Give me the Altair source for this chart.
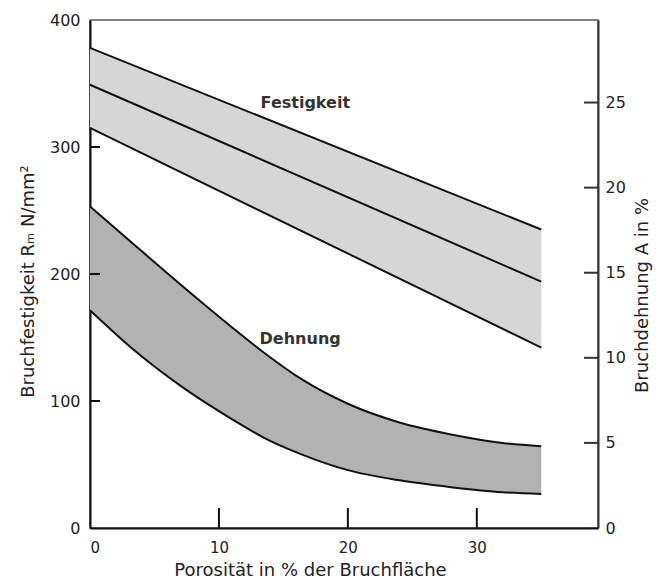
import altair as alt
import pandas as pd

# Axis ranges
x_max = 39.4          # porosity axis, % of fracture surface
left_max = 400        # tensile strength, N/mm²
right_max = 29.85     # elongation at fracture, %

# Strength band (Festigkeit): upper, mean and lower bound, N/mm²
fest_x = [0, 35]
fest_upper = [378, 235]
fest_mid = [349, 194]
fest_lower = [315, 142]

# Elongation band (Dehnung): upper and lower bound, %
dehn_x = [0, 3.5, 7.5, 11, 13.5, 16.5, 20, 24, 28, 32, 35]
dehn_upper = [18.9, 16.6, 14.0, 11.8, 10.3, 8.7, 7.3, 6.2, 5.5, 5.0, 4.8]
dehn_lower = [12.8, 10.4, 8.1, 6.4, 5.3, 4.3, 3.4, 2.8, 2.4, 2.1, 2.0]

# Tick values (inward tick marks)
x_ticks = [10, 20, 30]
left_ticks = [100, 200, 300]
right_ticks = [5, 10, 15, 20, 25]

# Band labels
label_text = ["Festigkeit", "Dehnung"]
label_x = [16.7, 16.3]
label_y = [335, 149]

FONT = "DejaVu Sans"
INK = "#111111"
TXT = "#222222"

xs = alt.Scale(domain=[0, x_max], nice=False, zero=False)
ys_left = alt.Scale(domain=[0, left_max], nice=False, zero=False)
ys_right = alt.Scale(domain=[0, right_max], nice=False, zero=False)

fest = pd.DataFrame({"x": fest_x, "upper": fest_upper, "mid": fest_mid, "lower": fest_lower})
dehn = pd.DataFrame({"x": dehn_x, "upper": dehn_upper, "lower": dehn_lower})
labels = pd.DataFrame({"t": label_text, "x": label_x, "y": label_y})

x_axis = alt.Axis(
    values=[0, 10, 20, 30], ticks=False, grid=False,
    domainColor=INK, domainWidth=2,
    labelFontSize=15, labelColor=TXT, labelPadding=12, labelFont=FONT,
    title="Porosität in % der Bruchfläche", titleFontSize=18, titleFontWeight="normal",
    titleColor=TXT, titleFont=FONT, titleX=220, titleY=42, titleBaseline="middle",
)
left_axis = alt.Axis(
    values=[0, 100, 200, 300, 400], ticks=False, grid=False,
    domainColor=INK, domainWidth=2,
    labelFontSize=16, labelColor=TXT, labelPadding=10, labelFont=FONT,
    title="Bruchfestigkeit Rₘ  N/mm²", titleFontSize=18, titleFontWeight="normal",
    titleColor=TXT, titleFont=FONT, titleAngle=270, titleBaseline="middle",
    titleX=-62, titleY=261,
)
right_axis = alt.Axis(
    orient="right", values=[0, 5, 10, 15, 20, 25], ticks=False, grid=False,
    domainColor="#333333", domainWidth=2,
    labelFontSize=16, labelColor=TXT, labelPadding=7, labelFont=FONT,
    title="Bruchdehnung  A in %", titleFontSize=18, titleFontWeight="normal",
    titleColor=TXT, titleFont=FONT, titleAngle=270, titleBaseline="middle",
    titleX=44, titleY=275,
)

X = lambda f: alt.X(f, scale=xs, axis=x_axis)
YL = lambda f: alt.Y(f, scale=ys_left, axis=left_axis)
YR = lambda f: alt.Y(f, scale=ys_right, axis=right_axis)

# Right-scale group: elongation band, its two bounds, ticks
dehn_band = alt.Chart(dehn).mark_area(color="#b2b2b2", interpolate="monotone").encode(
    x=X("x:Q"), y=YR("upper:Q"), y2="lower:Q",
)
dehn_lines = alt.Chart(dehn).transform_fold(
    ["upper", "lower"], as_=["key", "value"]
).mark_line(color=INK, strokeWidth=2, interpolate="monotone").encode(
    x=X("x:Q"), y=YR("value:Q"), detail="key:N",
)
right_tick_marks = alt.Chart(pd.DataFrame({"v": right_ticks})).mark_rule(
    color="#333333", strokeWidth=2
).encode(
    y=YR("v:Q"), x=alt.value(494), x2=alt.value(508),
)
right_group = alt.layer(dehn_band, dehn_lines, right_tick_marks)

# Left-scale group: strength band, its three lines, labels, ticks
fest_band = alt.Chart(fest).mark_area(color="#d6d6d6").encode(
    x=X("x:Q"), y=YL("upper:Q"), y2="lower:Q",
)
fest_lines = alt.Chart(fest).transform_fold(
    ["upper", "mid", "lower"], as_=["key", "value"]
).mark_line(color=INK, strokeWidth=2).encode(
    x=X("x:Q"), y=YL("value:Q"), detail="key:N",
)
band_labels = alt.Chart(labels).mark_text(
    font=FONT, fontSize=16, fontWeight="bold", color="#333333"
).encode(
    x=X("x:Q"), y=YL("y:Q"), text="t:N",
)
left_tick_marks = alt.Chart(pd.DataFrame({"v": left_ticks})).mark_rule(
    color=INK, strokeWidth=2
).encode(
    y=YL("v:Q"), x=alt.value(0), x2=alt.value(10),
)
x_tick_marks = alt.Chart(pd.DataFrame({"v": x_ticks})).mark_rule(
    color=INK, strokeWidth=2
).encode(
    x=X("v:Q"), y=alt.value(488), y2=alt.value(508),
)
left_group = alt.layer(fest_band, fest_lines, band_labels, left_tick_marks, x_tick_marks)

chart = (
    alt.layer(right_group, left_group)
    .resolve_scale(y="independent")
    .properties(
        width=508,
        height=508,
        padding={"left": 90, "top": 20, "right": 58, "bottom": 52},
        autosize=alt.AutoSizeParams(type="none"),
        background="white",
    )
    .configure(font=FONT)
    .configure_view(stroke="#555555", strokeWidth=1.5)
)

chart.save("out.html", embed_options={"renderer": "svg", "actions": False})
